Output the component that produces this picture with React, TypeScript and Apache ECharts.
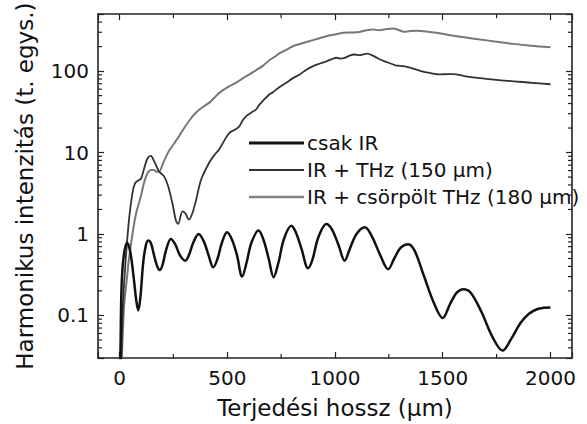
import React, { useEffect, useRef } from "react";
import * as echarts from "echarts";

// Terjedési hossz (μm) vs harmonikus intenzitás (t. egys.)
const irOnly: [number, number][] = [
  [0, 0.004], [5, 0.05], [10, 0.25], [20, 0.55], [35, 0.78], [50, 0.6], [65, 0.3], [78, 0.15],
  [87, 0.115], [97, 0.17], [110, 0.45], [122, 0.72], [133, 0.83], [145, 0.78], [160, 0.55],
  [175, 0.4], [187, 0.36], [200, 0.42], [215, 0.62], [238, 0.87], [258, 0.75], [280, 0.55],
  [305, 0.47], [322, 0.55], [342, 0.78], [367, 1.0], [392, 0.8], [413, 0.55], [435, 0.39],
  [455, 0.5], [475, 0.78], [499, 1.05], [522, 0.85], [545, 0.55], [569, 0.3], [590, 0.45],
  [612, 0.78], [645, 1.1], [668, 0.85], [692, 0.5], [715, 0.295], [738, 0.45], [762, 0.85],
  [797, 1.26], [818, 1.05], [845, 0.65], [875, 0.38], [895, 0.48], [922, 0.9], [960, 1.33],
  [985, 1.15], [1015, 0.75], [1045, 0.47], [1068, 0.65], [1100, 1.0], [1139, 1.21], [1170, 0.95],
  [1210, 0.55], [1247, 0.37], [1275, 0.5], [1305, 0.68], [1340, 0.75], [1370, 0.62], [1410, 0.32],
  [1460, 0.14], [1500, 0.093], [1535, 0.14], [1565, 0.19], [1596, 0.21], [1630, 0.19],
  [1680, 0.11], [1730, 0.055], [1778, 0.037], [1815, 0.05], [1860, 0.08], [1900, 0.105],
  [1940, 0.12], [1970, 0.124], [2000, 0.125],
];

const thz150: [number, number][] = [
  [0, 0.004], [15, 0.12], [29, 0.5], [45, 1.6], [60, 3.2], [72, 4.2], [85, 4.5], [100, 4.8],
  [115, 6.5], [130, 8.5], [145, 9.1], [160, 7.9], [184, 5.8], [207, 5.1], [225, 3.9], [245, 2.4],
  [262, 1.45], [272, 1.33], [292, 1.9], [305, 1.8], [322, 1.5], [338, 1.8], [355, 2.6], [378, 4.6],
  [417, 7.6], [440, 9.3], [463, 11], [486, 14], [510, 17.5], [535, 19], [556, 21], [572, 25],
  [588, 28], [612, 31], [634, 34], [650, 39], [665, 43], [696, 52], [712, 55], [743, 64],
  [774, 72], [805, 82], [836, 91], [867, 104], [898, 115], [930, 124], [960, 132], [985, 140],
  [1007, 146], [1025, 142], [1045, 145], [1070, 156], [1090, 160], [1115, 157], [1135, 162],
  [1150, 164], [1175, 155], [1200, 143], [1230, 132], [1255, 125], [1280, 118], [1301, 116],
  [1333, 113], [1360, 108], [1395, 101], [1440, 95], [1488, 91], [1520, 92], [1550, 92],
  [1600, 87], [1674, 82], [1750, 78], [1829, 75], [1910, 72], [2000, 69],
];

const thzChirped: [number, number][] = [
  [0, 0.004], [20, 0.12], [35, 0.3], [44, 0.5], [60, 1.0], [75, 1.7], [88, 2.3], [99, 2.9],
  [114, 4.3], [130, 5.6], [145, 6.1], [160, 6.1], [172, 5.8], [184, 5.8], [200, 7.2], [215, 8.8],
  [230, 10.5], [254, 13], [277, 16], [300, 20], [330, 26], [355, 31], [385, 36], [417, 41],
  [440, 47], [463, 54], [500, 63], [541, 72], [570, 81], [603, 91], [634, 103], [665, 116],
  [696, 137], [720, 150], [743, 166], [774, 182], [805, 202], [845, 218], [883, 234], [920, 250],
  [960, 268], [1000, 282], [1038, 295], [1075, 298], [1115, 303], [1146, 318], [1177, 324],
  [1208, 318], [1240, 328], [1270, 333], [1295, 320], [1320, 304], [1350, 310], [1379, 312],
  [1430, 305], [1472, 295], [1534, 276], [1600, 260], [1674, 244], [1750, 230], [1829, 216],
  [1910, 205], [2000, 196],
];

const seriesNames = ["csak IR", "IR + THz (150 μm)", "IR + csörpölt THz (180 μm)"];
const xMinorTicks = [250, 750, 1250, 1750];
const yMinorTicks = [
  0.04, 0.05, 0.06, 0.07, 0.08, 0.09,
  0.2, 0.3, 0.4, 0.5, 0.6, 0.7, 0.8, 0.9,
  2, 3, 4, 5, 6, 7, 8, 9,
  20, 30, 40, 50, 60, 70, 80, 90,
  200, 300, 400,
];

const X_MIN = -100;
const X_MAX = 2100;
const Y_MIN = 0.03;
const Y_MAX = 500;

const FONT = "DejaVu Sans";
const AXIS_COLOR = "#222222";
const COLORS = ["#111111", "#333333", "#858585"];
const WIDTHS = [2.5, 1.8, 2.0];

export default function App() {
  const ref = useRef<HTMLDivElement>(null);

  useEffect(() => {
    if (!ref.current) return;
    const chart = echarts.init(ref.current, undefined, { renderer: "svg" });

    const tickStyle = { stroke: AXIS_COLOR, lineWidth: 1.2 };
    const legendIcon = (h: number) => `path://M0,0H55V${h}H0Z`;

    const option: any = {
      animation: false,
      backgroundColor: "#ffffff",
      textStyle: { fontFamily: FONT },
      grid: { left: 98, right: 15, top: 13, bottom: 65, containLabel: false },
      legend: {
        data: [
          { name: seriesNames[0], icon: legendIcon(3) },
          { name: seriesNames[1], icon: legendIcon(2) },
          { name: seriesNames[2], icon: legendIcon(2.5) },
        ],
        orient: "vertical",
        left: 244,
        top: 128,
        itemWidth: 55,
        itemHeight: 14,
        itemGap: 7,
        symbolKeepAspect: true,
        textStyle: { fontFamily: FONT, fontSize: 20, color: "#111", lineHeight: 20, padding: [0, 0, 0, -2] },
        selectedMode: false,
      },
      xAxis: [
        {
          type: "value",
          min: X_MIN,
          max: X_MAX,
          position: "bottom",
          name: "Terjedési hossz (μm)",
          nameLocation: "middle",
          nameGap: 38,
          nameTextStyle: { fontFamily: FONT, fontSize: 23, color: "#111" },
          axisLine: { show: true, onZero: false, lineStyle: { color: AXIS_COLOR, width: 1.6 } },
          axisTick: { show: true, inside: true, length: 6, lineStyle: { color: AXIS_COLOR, width: 1.2 } },
          axisLabel: {
            fontFamily: FONT,
            fontSize: 20,
            color: "#111",
            margin: 10,
            formatter: (v: number) => (v % 500 === 0 ? String(v) : ""),
          },
          splitLine: { show: false },
        },
        {
          type: "value",
          min: X_MIN,
          max: X_MAX,
          position: "top",
          axisLine: { show: true, onZero: false, lineStyle: { color: AXIS_COLOR, width: 1.6 } },
          axisTick: { show: true, inside: true, length: 6, lineStyle: { color: AXIS_COLOR, width: 1.2 } },
          axisLabel: { show: false },
          splitLine: { show: false },
        },
      ],
      yAxis: [
        {
          type: "log",
          logBase: 10,
          min: Y_MIN,
          max: Y_MAX,
          position: "left",
          name: "Harmonikus intenzitás (t. egys.)",
          nameLocation: "middle",
          nameGap: 62,
          nameTextStyle: { fontFamily: FONT, fontSize: 23, color: "#111" },
          axisLine: { show: true, onZero: false, lineStyle: { color: AXIS_COLOR, width: 1.6 } },
          axisTick: { show: true, inside: true, length: 6, lineStyle: { color: AXIS_COLOR, width: 1.2 } },
          axisLabel: {
            fontFamily: FONT,
            fontSize: 20,
            color: "#111",
            margin: 9,
            formatter: (v: number) => {
              const l = Math.log10(v);
              const e = Math.round(l);
              if (Math.abs(l - e) > 1e-6) return "";
              return e < 0 ? Math.pow(10, e).toFixed(-e) : String(Math.pow(10, e));
            },
          },
          splitLine: { show: false },
        },
        {
          type: "log",
          logBase: 10,
          min: Y_MIN,
          max: Y_MAX,
          position: "right",
          axisLine: { show: true, onZero: false, lineStyle: { color: AXIS_COLOR, width: 1.6 } },
          axisTick: { show: true, inside: true, length: 6, lineStyle: { color: AXIS_COLOR, width: 1.2 } },
          axisLabel: { show: false },
          splitLine: { show: false },
        },
      ],
      series: [
        {
          type: "custom",
          name: "yMinor",
          coordinateSystem: "cartesian2d",
          xAxisIndex: 0,
          yAxisIndex: 0,
          silent: true,
          clip: false,
          data: yMinorTicks.map((v) => [X_MIN, v]),
          renderItem: (_p: any, api: any) => {
            const a = api.coord([X_MIN, api.value(1)]);
            const b = api.coord([X_MAX, api.value(1)]);
            return {
              type: "group",
              children: [
                { type: "line", shape: { x1: a[0], y1: a[1], x2: a[0] + 4, y2: a[1] }, style: tickStyle },
                { type: "line", shape: { x1: b[0], y1: b[1], x2: b[0] - 4, y2: b[1] }, style: tickStyle },
              ],
            };
          },
        },
        {
          type: "custom",
          name: "xMinor",
          coordinateSystem: "cartesian2d",
          xAxisIndex: 0,
          yAxisIndex: 0,
          silent: true,
          clip: false,
          data: xMinorTicks.map((v) => [v, Y_MIN]),
          renderItem: (_p: any, api: any) => {
            const a = api.coord([api.value(0), Y_MIN]);
            const b = api.coord([api.value(0), Y_MAX]);
            return {
              type: "group",
              children: [
                { type: "line", shape: { x1: a[0], y1: a[1], x2: a[0], y2: a[1] - 4 }, style: tickStyle },
                { type: "line", shape: { x1: b[0], y1: b[1], x2: b[0], y2: b[1] + 4 }, style: tickStyle },
              ],
            };
          },
        },
        {
          type: "line",
          name: seriesNames[2],
          data: thzChirped,
          xAxisIndex: 0,
          yAxisIndex: 0,
          symbol: "none",
          smooth: 0.3,
          lineStyle: { color: "#777777", width: WIDTHS[2] },
          itemStyle: { color: COLORS[2] },
          z: 2,
        },
        {
          type: "line",
          name: seriesNames[1],
          data: thz150,
          xAxisIndex: 0,
          yAxisIndex: 0,
          symbol: "none",
          smooth: 0.3,
          lineStyle: { color: COLORS[1], width: WIDTHS[1] },
          itemStyle: { color: COLORS[1] },
          z: 3,
        },
        {
          type: "line",
          name: seriesNames[0],
          data: irOnly,
          xAxisIndex: 0,
          yAxisIndex: 0,
          symbol: "none",
          smooth: 0.35,
          lineStyle: { color: COLORS[0], width: WIDTHS[0] },
          itemStyle: { color: COLORS[0] },
          z: 4,
        },
      ],
    };

    chart.setOption(option);
    return () => chart.dispose();
  }, []);

  return (
    <div
      ref={ref}
      style={{ position: "fixed", left: 0, top: 0, width: 587, height: 424, background: "#fff" }}
    />
  );
}
